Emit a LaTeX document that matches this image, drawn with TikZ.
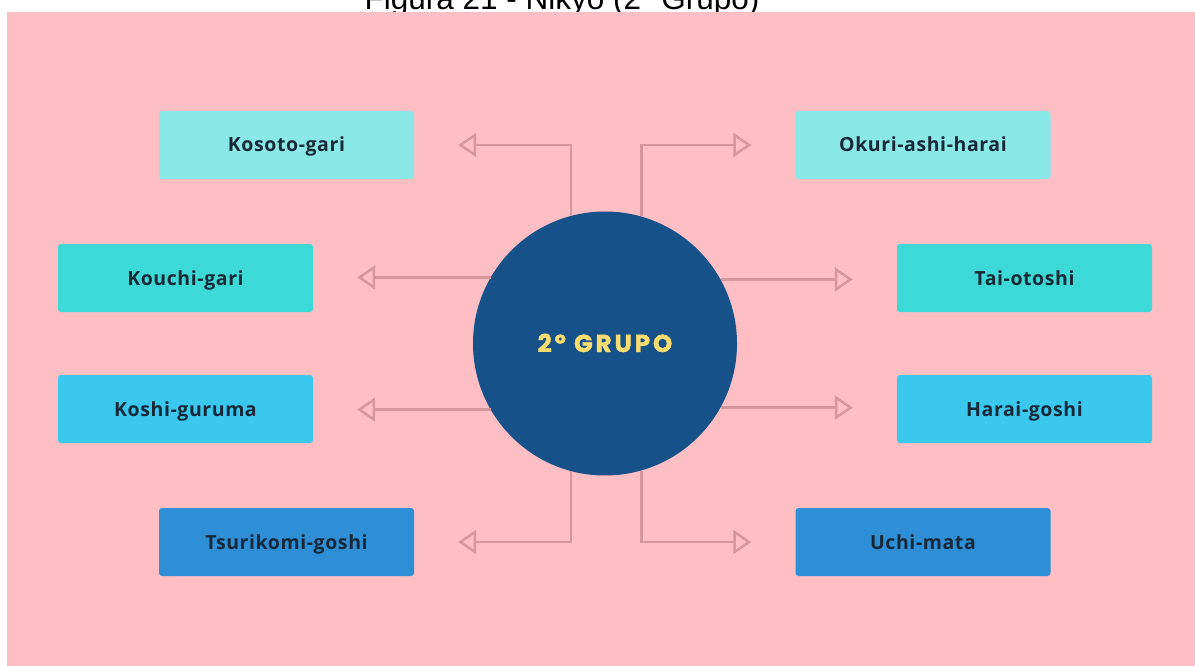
\documentclass[tikz,border=0pt]{standalone}
\usepackage{fontspec}
\setmainfont{Liberation Sans}
\newfontfamily\boxfont{Open Sans}[LetterSpace=3]
\newfontfamily\hubfont{Poppins}[LetterSpace=12, BoldFeatures={FakeBold=1.8}]
\usetikzlibrary{arrows.meta,calc}
\definecolor{bgpink}{HTML}{FDBFC4}
\definecolor{cA}{HTML}{8AE8E6}
\definecolor{cB}{HTML}{3DD9D6}
\definecolor{cC}{HTML}{3AC8EF}
\definecolor{cD}{HTML}{2E8FD6}
\definecolor{hub}{HTML}{165289}
\definecolor{hubtext}{HTML}{F7DC6F}
\definecolor{conncol}{HTML}{D4979B}
\definecolor{boxtext}{HTML}{172838}
\tikzset{
  item/.style={rectangle, rounded corners=3pt, minimum width=255pt, minimum height=68pt,
    inner sep=0pt, text height=14pt, text depth=0pt, text=boxtext,
    font=\boxfont\bfseries\fontsize{19.5}{22}\selectfont},
  conn/.style={draw=conncol, line width=2.5pt,
    -{Triangle[length=18pt,width=24pt,fill=bgpink,line join=miter]}}
}
\begin{document}
\begin{tikzpicture}[x=1pt,y=-1pt]
\useasboundingbox (0,0) rectangle (1195,666);
\begin{scope}
  \clip (0,0) rectangle (1195,666);
  \node[anchor=base, inner sep=0pt, font=\fontsize{31.5}{34}\selectfont] (title) at (562,10) {Figura 21 - Nikyo (2º Grupo)};
\end{scope}
\fill[bgpink] (7,12) rectangle (1195,666);

\node[item, fill=cA] (k1) at (286.5,145) {Kosoto-gari};
\node[item, fill=cA] (r1) at (923,145) {Okuri-ashi-harai};
\node[item, fill=cB] (k2) at (185.5,278) {Kouchi-gari};
\node[item, fill=cB] (r2) at (1024.5,278) {Tai-otoshi};
\node[item, fill=cC] (k3) at (185.5,409) {Koshi-guruma};
\node[item, fill=cC] (r3) at (1024.5,409) {Harai-goshi};
\node[item, fill=cD] (k4) at (286.5,542) {Tsurikomi-goshi};
\node[item, fill=cD] (r4) at (923,542) {Uchi-mata};

\node[circle, fill=hub, minimum size=264pt, inner sep=0pt, text=hubtext,
  text height=17pt, text depth=0pt,
  font=\hubfont\bfseries\fontsize{24.5}{27}\selectfont] (c) at (605,343.5) {2º GRUPO};

\coordinate (tk1) at ($(k1.east)+(44,0)$);
\coordinate (tr1) at ($(r1.west)+(-44,0)$);
\coordinate (tk2) at ($(k2.east)+(44,0)$);
\coordinate (tr2) at ($(r2.west)+(-44,0)$);
\coordinate (tk3) at ($(k3.east)+(44,0)$);
\coordinate (tr3) at ($(r3.west)+(-44,0)$);
\coordinate (tk4) at ($(k4.east)+(44,0)$);
\coordinate (tr4) at ($(r4.west)+(-44,0)$);

\draw[conn] (c.105.38) |- (tk1);
\draw[conn] (c.74.62) |- (tr1);
\draw[conn] (c.150.25) -- (c.150.25 -| tk2);
\draw[conn] (c.29.75) -- (c.29.75 -| tr2);
\draw[conn] (c.-150.25) -- (c.-150.25 -| tk3);
\draw[conn] (c.-29.75) -- (c.-29.75 -| tr3);
\draw[conn] (c.-105.38) |- (tk4);
\draw[conn] (c.-74.62) |- (tr4);
\end{tikzpicture}
\end{document}
